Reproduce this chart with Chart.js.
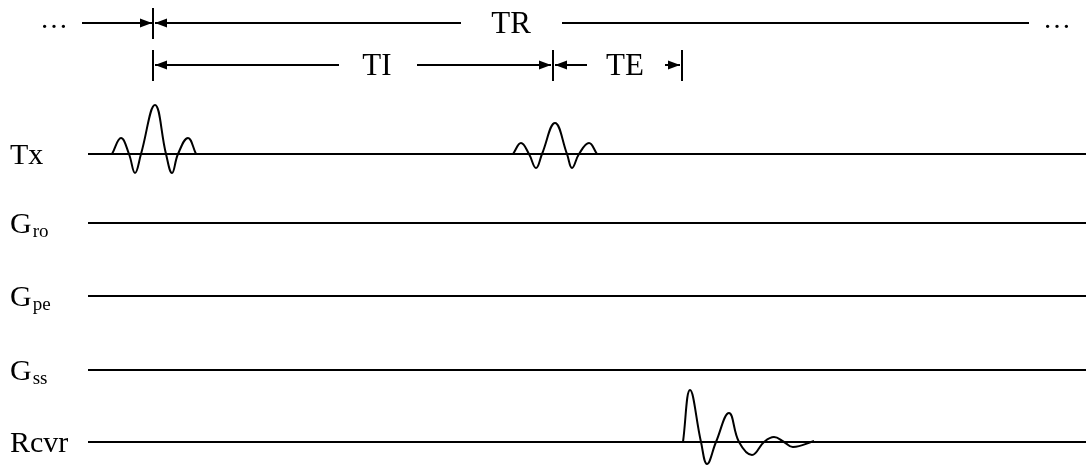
<!DOCTYPE html>
<html lang="en">
<head>
<meta charset="UTF-8">
<title>Inversion recovery sequence</title>
<script src="https://cdn.jsdelivr.net/npm/chart.js"></script>
<style>
  html, body { margin: 0; padding: 0; background: #fff; }
  .chart-box { width: 1086px; height: 466px; }
</style>
</head>
<body>
<div class="chart-box"><canvas id="seqChart"></canvas></div>
<script>
// channel rows, top to bottom
const rowNames = ['Tx', 'G', 'G', 'G', 'Rcvr'];
const rowSubs = ['', 'ro', 'pe', 'ss', ''];

// RF pulses on Tx: time and amplitude (up = positive)
const pulse180Times = [112, 121, 129, 135, 141, 155, 166, 172, 178, 188, 196];
const pulse180Amps = [0, 16, 0, -19, 0, 49, 0, -19, 0, 16, 0];
const pulse90Times = [513, 521, 529, 536, 542, 555, 567, 572, 579, 589, 597];
const pulse90Amps = [0, 11, 0, -14, 0, 31, 0, -14, 0, 11, 0];

// signal on Rcvr
const echoTimes = [683, 690, 701, 707, 716, 729, 739, 752, 764, 774, 784, 793, 814];
const echoAmps = [0, 52, 0, -22, 0, 29, 0, -13, 0, 5, 0, -5, 1];

// timing marks and intervals
const trMarkTimes = [153];
const tiMarkTimes = [153, 553, 682];
const intervalNames = ['TR', 'TI', 'TE'];
const intervalLabelTimes = [511, 377, 625];
// [from, to] - arrow head drawn at "to"
const trArrows = [[82, 152], [461, 155]];
const trLine = [562, 1029];
const tiArrows = [[339, 155], [417, 551], [587, 555], [665, 680]];
const ellipsisTimes = [54, 1057];

// layout (y units, 0 at top)
const rowLevel = [154, 223, 296, 370, 442];
const trLevel = 23, tiLevel = 65;
const baseStart = 88, baseEnd = 1086;

const datasets = [];
function addLine(points, extra) {
  datasets.push(Object.assign({
    data: points,
    borderColor: '#000',
    borderWidth: 2,
    pointRadius: 0,
    tension: 0,
    fill: false
  }, extra || {}));
}

// baselines
rowLevel.forEach(lv => addLine([{ x: baseStart, y: lv }, { x: baseEnd, y: lv }]));

// waveforms
function wave(times, amps, level) {
  addLine(times.map((t, i) => ({ x: t, y: level - amps[i] })), { tension: 0.42 });
}
wave(pulse180Times, pulse180Amps, rowLevel[0]);
wave(pulse90Times, pulse90Amps, rowLevel[0]);
wave(echoTimes, echoAmps, rowLevel[4]);

// timing arrows and ticks
trArrows.forEach(a => addLine([{ x: a[0], y: trLevel }, { x: a[1], y: trLevel }], { arrow: true }));
addLine([{ x: trLine[0], y: trLevel }, { x: trLine[1], y: trLevel }]);
tiArrows.forEach(a => addLine([{ x: a[0], y: tiLevel }, { x: a[1], y: tiLevel }], { arrow: true }));
trMarkTimes.forEach(t => addLine([{ x: t, y: trLevel - 15 }, { x: t, y: trLevel + 16 }]));
tiMarkTimes.forEach(t => addLine([{ x: t, y: tiLevel - 15 }, { x: t, y: tiLevel + 16 }]));

const serif = "'Liberation Serif', 'Times New Roman', serif";

const seqLabels = {
  id: 'seqLabels',
  afterDatasetsDraw(chart) {
    const { ctx, scales: { x, y } } = chart;
    ctx.save();
    ctx.fillStyle = '#000';

    // arrow heads
    chart.data.datasets.forEach((ds, i) => {
      if (!ds.arrow) return;
      const pts = chart.getDatasetMeta(i).data;
      const a = pts[pts.length - 2], b = pts[pts.length - 1];
      ctx.save();
      ctx.translate(b.x, b.y);
      ctx.rotate(Math.atan2(b.y - a.y, b.x - a.x));
      ctx.beginPath();
      ctx.moveTo(0, 0);
      ctx.lineTo(-12, -4.5);
      ctx.lineTo(-12, 4.5);
      ctx.closePath();
      ctx.fill();
      ctx.restore();
    });

    // interval names
    ctx.font = '31px ' + serif;
    ctx.textAlign = 'center';
    ctx.textBaseline = 'alphabetic';
    const levels = [trLevel, tiLevel, tiLevel];
    intervalNames.forEach((n, i) => {
      ctx.fillText(n, x.getPixelForValue(intervalLabelTimes[i]), y.getPixelForValue(levels[i]) + 10);
    });
    ctx.font = '28px ' + serif;
    ellipsisTimes.forEach(t => ctx.fillText('\u2026', x.getPixelForValue(t), y.getPixelForValue(trLevel) + 5));

    // row names
    ctx.textAlign = 'left';
    rowNames.forEach((n, i) => {
      const base = y.getPixelForValue(rowLevel[i]) + 10;
      ctx.font = '30px ' + serif;
      ctx.fillText(n, 10, base);
      if (rowSubs[i]) {
        const w = ctx.measureText(n).width;
        ctx.font = '19px ' + serif;
        ctx.fillText(rowSubs[i], 10 + w + 1, base + 4);
      }
    });
    ctx.restore();
  }
};

new Chart(document.getElementById('seqChart'), {
  type: 'line',
  data: { datasets },
  options: {
    responsive: true,
    maintainAspectRatio: false,
    animation: false,
    events: [],
    layout: { padding: 0 },
    plugins: { legend: { display: false }, tooltip: { enabled: false } },
    scales: {
      x: { type: 'linear', min: 0, max: 1086, display: false },
      y: { type: 'linear', min: 0, max: 466, reverse: true, display: false }
    }
  },
  plugins: [seqLabels]
});
</script>
</body>
</html>
